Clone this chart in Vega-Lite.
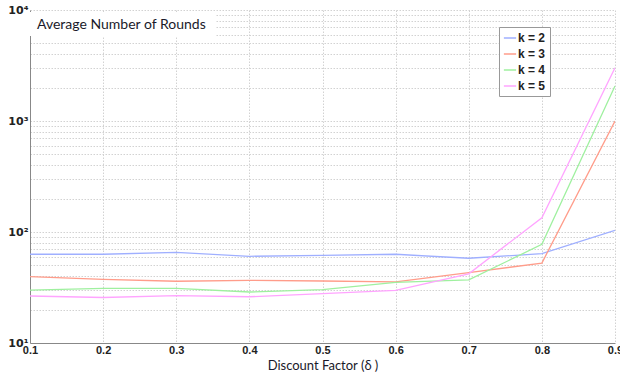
{
  "$schema": "https://vega.github.io/schema/vega-lite/v6.json",
  "width": 585,
  "height": 333,
  "autosize": {"type": "none"},
  "padding": {"left": 30, "top": 10, "right": 5, "bottom": 39},
  "background": "white",
  "config": {
    "view": {"stroke": null},
    "font": "Liberation Sans"
  },
  "title": {
    "text": "Average Number of Rounds",
    "anchor": "start",
    "frame": "group",
    "orient": "top",
    "offset": -28,
    "dx": 7,
    "font": "Lato",
    "fontSize": 14,
    "fontWeight": "normal",
    "color": "#1a1a2a"
  },
  "data": {
    "values": [
      {"x": 0.1, "k": "k = 2", "v": 63}, {"x": 0.2, "k": "k = 2", "v": 63}, {"x": 0.3, "k": "k = 2", "v": 65.6},
      {"x": 0.4, "k": "k = 2", "v": 60.4}, {"x": 0.5, "k": "k = 2", "v": 61.7}, {"x": 0.6, "k": "k = 2", "v": 63},
      {"x": 0.7, "k": "k = 2", "v": 58}, {"x": 0.8, "k": "k = 2", "v": 63.8}, {"x": 0.9, "k": "k = 2", "v": 103.6},
      {"x": 0.1, "k": "k = 3", "v": 39.6}, {"x": 0.2, "k": "k = 3", "v": 37.5}, {"x": 0.3, "k": "k = 3", "v": 36},
      {"x": 0.4, "k": "k = 3", "v": 36.7}, {"x": 0.5, "k": "k = 3", "v": 36.2}, {"x": 0.6, "k": "k = 3", "v": 35.6},
      {"x": 0.7, "k": "k = 3", "v": 43}, {"x": 0.8, "k": "k = 3", "v": 52.5}, {"x": 0.9, "k": "k = 3", "v": 1000},
      {"x": 0.1, "k": "k = 4", "v": 30}, {"x": 0.2, "k": "k = 4", "v": 31.1}, {"x": 0.3, "k": "k = 4", "v": 31},
      {"x": 0.4, "k": "k = 4", "v": 28.8}, {"x": 0.5, "k": "k = 4", "v": 30.2}, {"x": 0.6, "k": "k = 4", "v": 35.2},
      {"x": 0.7, "k": "k = 4", "v": 37}, {"x": 0.8, "k": "k = 4", "v": 77.4}, {"x": 0.9, "k": "k = 4", "v": 2065},
      {"x": 0.1, "k": "k = 5", "v": 26.5}, {"x": 0.2, "k": "k = 5", "v": 25.7}, {"x": 0.3, "k": "k = 5", "v": 26.7},
      {"x": 0.4, "k": "k = 5", "v": 26.1}, {"x": 0.5, "k": "k = 5", "v": 27.8}, {"x": 0.6, "k": "k = 5", "v": 29.8},
      {"x": 0.7, "k": "k = 5", "v": 42}, {"x": 0.8, "k": "k = 5", "v": 134.5}, {"x": 0.9, "k": "k = 5", "v": 3020}
    ]
  },
  "layer": [
    {
      "mark": {"type": "line", "strokeWidth": 1.3, "clip": true},
      "encoding": {
        "x": {
          "field": "x", "type": "quantitative",
          "scale": {"domain": [0.1, 0.9], "nice": false, "zero": false},
          "axis": {
            "values": [0.1, 0.2, 0.3, 0.4, 0.5, 0.6, 0.7, 0.8, 0.9],
            "format": ".1f",
            "title": "Discount Factor (δ )",
            "titleFont": "Lato",
            "titleFontSize": 13,
            "titleFontWeight": "normal",
            "titleColor": "#1a1a2a",
            "titlePadding": 4,
            "labelFont": "Liberation Sans",
            "labelFontSize": 11,
            "labelFontWeight": "bold",
            "labelColor": "#222",
            "labelPadding": 1,
            "labelOverlap": false,
            "labelFlush": false,
            "domainColor": "#888",
            "ticks": false,
            "grid": true,
            "gridColor": "#d2d2d2",
            "gridDash": [1.5, 1.5],
            "gridWidth": 1
          }
        },
        "y": {
          "field": "v", "type": "quantitative",
          "scale": {"type": "log", "domain": [10, 10000], "nice": false},
          "axis": {
            "values": [10, 20, 30, 40, 50, 60, 70, 80, 90, 100, 200, 300, 400, 500, 600, 700, 800, 900, 1000, 2000, 3000, 4000, 5000, 6000, 7000, 8000, 9000, 10000],
            "labelExpr": "datum.value == 10 ? '10¹' : datum.value == 100 ? '10²' : datum.value == 1000 ? '10³' : datum.value == 10000 ? '10⁴' : ''",
            "title": null,
            "labelFont": "DejaVu Sans",
            "labelFontSize": 11,
            "labelFontWeight": "bold",
            "labelColor": "#222",
            "labelPadding": 2,
            "labelOverlap": false,
            "labelFlush": false,
            "domainColor": "#888",
            "ticks": false,
            "grid": true,
            "gridColor": "#d2d2d2",
            "gridDash": [1.5, 1.5],
            "gridWidth": 1
          }
        },
        "color": {
          "field": "k", "type": "nominal",
          "scale": {
            "domain": ["k = 2", "k = 3", "k = 4", "k = 5"],
            "range": ["#9fafff", "#ff9c8a", "#9ff09f", "#ffa4ff"]
          },
          "legend": {
            "title": null,
            "orient": "none",
            "legendX": 469,
            "legendY": 17,
            "fillColor": "white",
            "strokeColor": "#999",
            "padding": 4,
            "symbolType": "stroke",
            "symbolSize": 150,
            "symbolStrokeWidth": 1.5,
            "labelFont": "Liberation Sans",
            "labelFontSize": 12,
            "labelFontWeight": "bold",
            "labelColor": "#222",
            "labelOffset": 1,
            "rowPadding": 3
          }
        }
      }
    },
    {
      "mark": {"type": "rect", "fill": "white", "stroke": null},
      "encoding": {
        "x": {"datum": 0.1, "type": "quantitative"},
        "x2": {"datum": 0.353},
        "y": {"datum": 9500, "type": "quantitative"},
        "y2": {"datum": 5900}
      }
    }
  ]
}
